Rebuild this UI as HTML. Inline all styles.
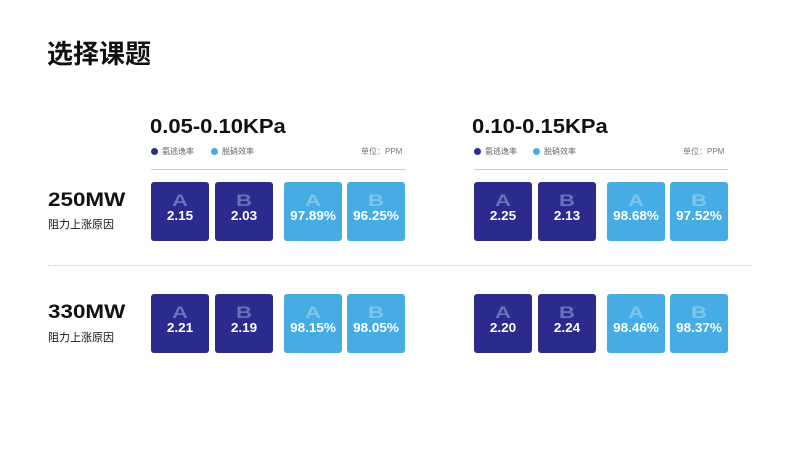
<!DOCTYPE html>
<html><head><meta charset="utf-8"><style>
*{margin:0;padding:0;box-sizing:border-box}
body{width:800px;height:450px;background:#fff;position:relative;overflow:hidden;font-family:"Liberation Sans","Noto Sans CJK SC",sans-serif;color:#111}
.abs{position:absolute}
.title{left:47px;top:34px;font-size:26px;font-weight:bold;font-family:"Noto Sans CJK SC",sans-serif}
.gt{font-size:20px;font-weight:bold;top:116px;transform:scaleX(1.1);transform-origin:left}
.leg{font-size:8px;color:#666;top:146px;font-family:"Liberation Sans","Noto Sans CJK SC",sans-serif}
.dot{display:inline-block;width:7px;height:7px;border-radius:50%;vertical-align:-1px;margin-right:4px}
.unit{font-size:8px;color:#777;top:146px}
.hl{height:1px;background:#ccc;top:169px}
.rl{font-size:19px;font-weight:bold;left:48px;transform:scaleX(1.18);transform-origin:left}
.rs{font-size:11px;left:48px;font-family:"Noto Sans CJK SC",sans-serif}
.box{width:58px;height:59px;border-radius:3px;text-align:center;color:#fff}
.box .l{font-size:17px;font-weight:bold;margin-top:10px;line-height:17px;transform:scaleX(1.3)}
.box .v{font-size:12.5px;font-weight:bold;line-height:14px;transform:scaleX(1.08)}
.d{background:#2b2a8d}.d .l{color:#6d6fb8}
.c{background:#45ace4}.c .l{color:#7cc6ee}
</style></head><body>
<div class="abs title">选择课题</div>
<div class="abs gt" style="left:150px">0.05-0.10KPa</div>
<div class="abs gt" style="left:472px">0.10-0.15KPa</div>
<div class="abs leg" style="left:151px"><span class="dot" style="background:#2b2a8d"></span>氨逃逸率</div>
<div class="abs leg" style="left:211px"><span class="dot" style="background:#45ace4"></span>脱硝效率</div>
<div class="abs unit" style="left:361px">单位：PPM</div>
<div class="abs leg" style="left:474px"><span class="dot" style="background:#2b2a8d"></span>氨逃逸率</div>
<div class="abs leg" style="left:533px"><span class="dot" style="background:#45ace4"></span>脱硝效率</div>
<div class="abs unit" style="left:683px">单位：PPM</div>
<div class="abs hl" style="left:151px;width:255px"></div>
<div class="abs hl" style="left:474px;width:254px"></div>
<div class="abs" style="left:48px;top:265px;width:704px;border-top:1px dotted #ccc"></div>
<div class="abs rl" style="top:190px">250MW</div>
<div class="abs rs" style="top:216px">阻力上涨原因</div>
<div class="abs rl" style="top:302px">330MW</div>
<div class="abs rs" style="top:329px">阻力上涨原因</div>
<div id="boxes"></div>
<script>
const rows=["250MW","330MW"];
const groups=["0.05-0.10KPa","0.10-0.15KPa"];
const ammoniaA=[[2.15,2.25],[2.21,2.20]];
const ammoniaB=[[2.03,2.13],[2.19,2.24]];
const effA=[[97.89,98.68],[98.15,98.46]];
const effB=[[96.25,97.52],[98.05,98.37]];
const groupX=[151,474], rowY=[182,294], offs=[0,64,133,196];
const host=document.getElementById('boxes');
rows.forEach((r,ri)=>groups.forEach((g,gi)=>{
  const items=[["A",ammoniaA[ri][gi].toFixed(2),"d"],["B",ammoniaB[ri][gi].toFixed(2),"d"],["A",effA[ri][gi].toFixed(2)+"%","c"],["B",effB[ri][gi].toFixed(2)+"%","c"]];
  items.forEach((it,k)=>{
    const el=document.createElement('div');
    el.className='abs box '+it[2];
    el.style.left=(groupX[gi]+offs[k])+'px';el.style.top=rowY[ri]+'px';
    el.innerHTML='<div class="l">'+it[0]+'</div><div class="v">'+it[1]+'</div>';
    
    
    host.appendChild(el);
  });
}));
</script>
</body></html>
